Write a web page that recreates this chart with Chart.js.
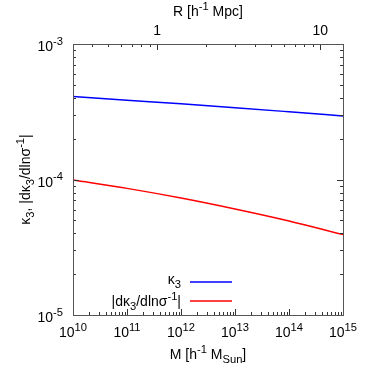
<!DOCTYPE html>
<html>
<head>
<meta charset="utf-8">
<script src="https://cdn.jsdelivr.net/npm/chart.js"></script>
<style>
  html, body { margin: 0; padding: 0; background: #fff; }
  canvas { display: block; }
</style>
</head>
<body>
<canvas id="chart" width="379" height="379"></canvas>
<script>
// Halo mass sampling points (h^-1 M_Sun)
const masses = [1e10, 1e11, 1e12, 1e13, 1e14, 1e15];
// kappa_3 values
const kappa3 = [4.1e-4, 3.85e-4, 3.62e-4, 3.39e-4, 3.16e-4, 2.94e-4];
// |d kappa_3 / d ln sigma^-1|
const dKappa3 = [9.9e-5, 8.6e-5, 7.3e-5, 6.06e-5, 4.94e-5, 3.92e-5];

// Axis limits and labelled ticks
const massRange = [1e10, 1e15];
const yRange = [1e-5, 1e-3];
const radiusRange = [0.305, 13.8];
const massTickExps = [10, 11, 12, 13, 14, 15];
const yTickExps = [-3, -4, -5];
const radiusTicks = [1, 10];

const FONT = '"Liberation Sans", Arial, sans-serif';
const SIZE = 14;

/**
 * Map a radius onto the mass axis (top axis shares the x scale, R ~ M^(1/3))
 */
function radiusToMass(r) {
    const lm0 = Math.log10(massRange[0]), lm1 = Math.log10(massRange[1]);
    const lr0 = Math.log10(radiusRange[0]), lr1 = Math.log10(radiusRange[1]);
    return Math.pow(10, lm0 + (Math.log10(r) - lr0) * (lm1 - lm0) / (lr1 - lr0));
}

/**
 * Draw text with super/subscripts. parts: [[text, mode]] mode 0 normal, 1 sup, -1 sub
 */
function drawRich(ctx, parts, x, y, align, vAlign) {
    const items = parts.map(([t, m]) => {
        const size = m === 0 ? SIZE : SIZE * 0.8;
        ctx.font = size + 'px ' + FONT;
        const mt = ctx.measureText(t);
        const off = m === 1 ? -SIZE * 0.45 : (m === -1 ? SIZE * 0.3 : 0);
        return { t, size, off, w: mt.width,
                 asc: mt.actualBoundingBoxAscent - off,
                 desc: mt.actualBoundingBoxDescent + off };
    });
    const total = items.reduce((s, it) => s + it.w, 0);
    let sx = align === 'right' ? x - total : (align === 'center' ? x - total / 2 : x);
    let base = y;
    if (vAlign !== 'baseline') {
        const asc = Math.max(...items.map(it => it.asc));
        const desc = Math.max(...items.map(it => it.desc));
        base = vAlign === 'top' ? y + asc : y + (asc - desc) / 2;
    }
    ctx.textBaseline = 'alphabetic';
    ctx.textAlign = 'left';
    items.forEach(it => {
        ctx.font = it.size + 'px ' + FONT;
        ctx.fillText(it.t, sx, base + it.off);
        sx += it.w;
    });
}

function minorValues(lo, hi) {
    const out = [];
    for (let e = Math.floor(Math.log10(lo)); e <= Math.ceil(Math.log10(hi)); e++) {
        for (let k = 1; k <= 9; k++) {
            const v = k * Math.pow(10, e);
            if (v >= lo * 0.9999 && v <= hi * 1.0001) out.push({ v, major: k === 1 });
        }
    }
    return out;
}

const framePlugin = {
    id: 'frame',
    afterDraw(chart) {
        const ctx = chart.ctx;
        const a = chart.chartArea;
        const xs = chart.scales.x, ys = chart.scales.y;
        ctx.save();

        // ticks (inward, mirrored)
        ctx.strokeStyle = '#333';
        ctx.lineWidth = 1;
        ctx.beginPath();
        minorValues(massRange[0], massRange[1]).forEach(({ v, major }) => {
            const px = Math.round(xs.getPixelForValue(v)) + 0.5;
            const len = major ? 6 : 3;
            ctx.moveTo(px, a.bottom); ctx.lineTo(px, a.bottom - len);
        });
        minorValues(radiusRange[0], radiusRange[1]).forEach(({ v, major }) => {
            const px = Math.round(xs.getPixelForValue(radiusToMass(v))) + 0.5;
            const len = major ? 6 : 3;
            ctx.moveTo(px, a.top); ctx.lineTo(px, a.top + len);
        });
        minorValues(yRange[0], yRange[1]).forEach(({ v, major }) => {
            const py = Math.round(ys.getPixelForValue(v)) + 0.5;
            const len = major ? 6 : 3;
            ctx.moveTo(a.left, py); ctx.lineTo(a.left + len, py);
            ctx.moveTo(a.right, py); ctx.lineTo(a.right - len, py);
        });
        ctx.stroke();

        // border
        ctx.strokeStyle = '#555';
        ctx.strokeRect(a.left + 0.5, a.top + 0.5, a.right - a.left, a.bottom - a.top);

        ctx.fillStyle = '#000';
        // bottom tick labels
        massTickExps.forEach(e => {
            const px = xs.getPixelForValue(Math.pow(10, e));
            drawRich(ctx, [['10', 0], [String(e), 1]], px, a.bottom + 8, 'center', 'top');
        });
        // left tick labels
        yTickExps.forEach(e => {
            const py = ys.getPixelForValue(Math.pow(10, e));
            drawRich(ctx, [['10', 0], [String(e), 1]], a.left - 10, py, 'right', 'center');
        });
        // top tick labels
        radiusTicks.forEach(v => {
            const px = xs.getPixelForValue(radiusToMass(v));
            drawRich(ctx, [[String(v), 0]], px, a.top - 14, 'center', 'center');
        });

        const cx = (a.left + a.right) / 2;
        drawRich(ctx, [['M [h', 0], ['-1', 1], [' M', 0], ['Sun', -1], [']', 0]], cx, a.bottom + 39, 'center', 'center');
        drawRich(ctx, [['R [h', 0], ['-1', 1], [' Mpc]', 0]], cx, 10.5, 'center', 'center');

        ctx.save();
        ctx.translate(25, (a.top + a.bottom) / 2);
        ctx.rotate(-Math.PI / 2);
        drawRich(ctx, [['\u03BA', 0], ['3', -1], [', |d\u03BA', 0], ['3', -1], ['/dln\u03C3', 0], ['-1', 1], ['|', 0]], 0, 0, 'center', 'center');
        ctx.restore();

        // legend
        const legendRows = [
            { parts: [['\u03BA', 0], ['3', -1]], ds: 0, y: 282 },
            { parts: [['|d\u03BA', 0], ['3', -1], ['/dln\u03C3', 0], ['-1', 1], ['|', 0]], ds: 1, y: 301 }
        ];
        legendRows.forEach(row => {
            ctx.fillStyle = '#000';
            drawRich(ctx, row.parts, 181, row.y, 'right', 'center');
            ctx.strokeStyle = chart.data.datasets[row.ds].borderColor;
            ctx.lineWidth = 1.5;
            ctx.beginPath();
            ctx.moveTo(190, row.y); ctx.lineTo(232, row.y);
            ctx.stroke();
        });
        ctx.restore();
    }
};

new Chart(document.getElementById('chart'), {
    type: 'line',
    data: {
        datasets: [
            {
                label: '\u03BA3',
                data: masses.map((m, i) => ({ x: m, y: kappa3[i] })),
                borderColor: '#0000ff',
                borderWidth: 1.5,
                pointRadius: 0,
                cubicInterpolationMode: 'monotone'
            },
            {
                label: '|d\u03BA3/dln\u03C3-1|',
                data: masses.map((m, i) => ({ x: m, y: dKappa3[i] })),
                borderColor: '#ff0000',
                borderWidth: 1.5,
                pointRadius: 0,
                cubicInterpolationMode: 'monotone'
            }
        ]
    },
    options: {
        responsive: false,
        animation: false,
        layout: { padding: { left: 73, top: 44, right: 36, bottom: 64 } },
        plugins: { legend: { display: false }, tooltip: { enabled: false } },
        scales: {
            x: { type: 'logarithmic', min: massRange[0], max: massRange[1], display: false },
            y: { type: 'logarithmic', min: yRange[0], max: yRange[1], display: false }
        }
    },
    plugins: [framePlugin]
});
</script>
</body>
</html>
